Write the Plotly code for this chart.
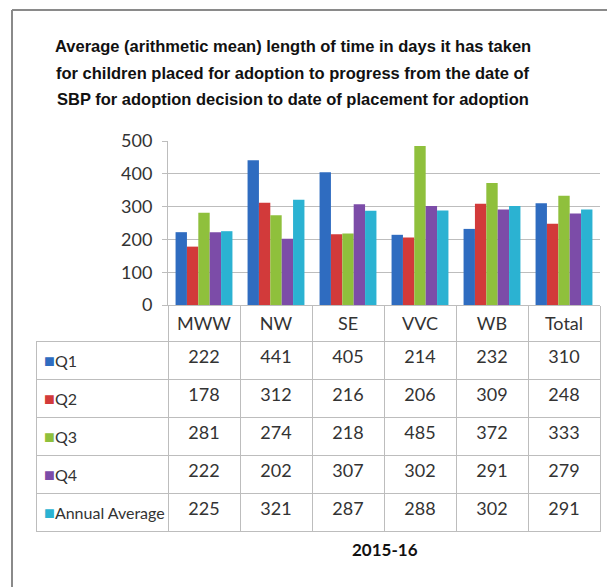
import plotly.graph_objects as go

W, H = 607, 587

categories = ["MWW", "NW", "SE", "VVC", "WB", "Total"]
series_names = ["Q1", "Q2", "Q3", "Q4", "Annual Average"]
q1 = [222, 441, 405, 214, 232, 310]
q2 = [178, 312, 216, 206, 309, 248]
q3 = [281, 274, 218, 485, 372, 333]
q4 = [222, 202, 307, 302, 291, 279]
annual_avg = [225, 321, 287, 288, 302, 291]
y_ticks = [0, 100, 200, 300, 400, 500]

series_values = [q1, q2, q3, q4, annual_avg]
colors = ["#2f6cc0", "#d23a3a", "#8fc03c", "#7c4ca8", "#2bb2d2"]

title_lines = [
    "Average (arithmetic mean) length of time in days it has taken",
    "for children placed for adoption to progress from the date of",
    "SBP for adoption decision to date of placement for adoption",
]

TITLE_FONT = "Liberation Sans, Arial, sans-serif"
BODY = "Lato, Carlito, Calibri, sans-serif"
GRID = "#bdbdbd"


def px_x(p):
    return p / W


def px_y(p):
    return 1 - p / H


fig = go.Figure()
for name, vals, col in zip(series_names, series_values, colors):
    fig.add_trace(go.Bar(
        x=categories, y=vals, name=name,
        marker=dict(color=col, line=dict(width=0)),
        showlegend=False))

# data table under the plot: one column per category, one row per series.
# the first series row is used as the table header so no empty header shows
# (trailing <br> stops the table from word-wrapping the styled label)
labels = [f"<span style='font-size:18px;color:{c}'>■</span>{n}<br>"
          for n, c in zip(series_names, colors)]
columns = [labels] + [[s[i] for s in series_values]
                      for i in range(len(categories))]
cell_style = dict(align=["left"] + ["center"] * len(categories),
                  fill_color="white", height=38,
                  line=dict(color=GRID, width=1),
                  font=dict(family=BODY, size=[16] + [18] * len(categories),
                            color="#333"))
fig.add_trace(go.Table(
    domain=dict(x=[px_x(36), px_x(600)], y=[px_y(532), px_y(341)]),
    columnwidth=[132] + [72] * len(categories),
    header=dict(values=[col[0] for col in columns], **cell_style),
    cells=dict(values=[col[1:] for col in columns], **cell_style)))

annotations = [
    dict(text=f"<b>{line}</b>", x=px_x(293), y=px_y(yc),
         xref="paper", yref="paper", showarrow=False,
         xanchor="center", yanchor="middle",
         font=dict(family=TITLE_FONT, size=16.5, color="#111"))
    for line, yc in zip(title_lines, [46, 73, 99])
]
annotations.append(
    dict(text="<b>2015-16</b>", x=px_x(385), y=px_y(549),
         xref="paper", yref="paper", showarrow=False,
         xanchor="center", yanchor="middle",
         font=dict(family=BODY, size=17, color="#111")))

fig.update_layout(
    width=W, height=H,
    margin=dict(l=0, r=0, t=0, b=0, autoexpand=False),
    paper_bgcolor="white", plot_bgcolor="white",
    barmode="group", bargap=0.21, bargroupgap=0.0,
    font=dict(family=BODY, color="#333"),
    xaxis=dict(domain=[px_x(168), px_x(600)], automargin=False,
               showline=True, linecolor=GRID,
               ticks="outside", tickson="boundaries", ticklen=36,
               tickcolor=GRID, ticklabelstandoff=2,
               tickfont=dict(size=18, family=BODY, color="#333")),
    yaxis=dict(domain=[px_y(305), px_y(141)], range=[0, 500],
               automargin=False,
               tickvals=y_ticks, showgrid=True, gridcolor=GRID,
               showline=True, linecolor=GRID,
               ticks="outside", ticklen=5, tickcolor=GRID,
               ticklabelstandoff=6,
               tickfont=dict(size=18, family=BODY, color="#333")),
    annotations=annotations,
    shapes=[
        dict(type="line", xref="paper", yref="paper",
             x0=px_x(12), x1=1, y0=px_y(10), y1=px_y(10),
             line=dict(color="#8a8a8a", width=2)),
        dict(type="line", xref="paper", yref="paper",
             x0=px_x(12), x1=px_x(12), y0=px_y(10), y1=0,
             line=dict(color="#8a8a8a", width=2)),
    ],
)

fig.write_html(
    "out.html",
    config={"displayModeBar": False},
    post_script="document.body.style.margin='0';"
                "document.body.style.overflow='hidden';"
                "document.documentElement.style.overflow='hidden';")
